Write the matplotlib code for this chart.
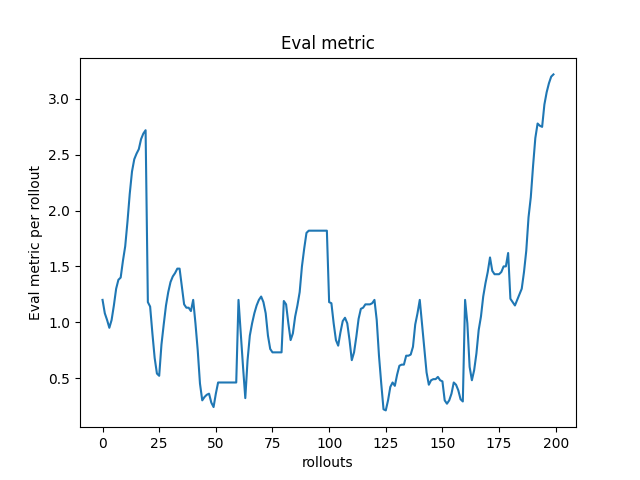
import numpy as np
import matplotlib
matplotlib.use("Agg")
import matplotlib.pyplot as plt

# eval metric per rollout
seg0 = [1.20, 1.08, 1.02, 0.95, 1.02, 1.15, 1.30, 1.38, 1.40, 1.55,
        1.68, 1.90, 2.15, 2.35, 2.46, 2.51, 2.55, 2.64, 2.69, 2.72]
seg1 = [1.18, 1.14, 0.90, 0.68, 0.54, 0.52, 0.80, 0.98, 1.15, 1.27,
        1.36, 1.41, 1.44, 1.48, 1.48, 1.32, 1.16, 1.13, 1.13, 1.10]
seg2 = [1.20, 0.99, 0.75, 0.45, 0.30, 0.33, 0.35, 0.36, 0.28, 0.24,
        0.36, 0.46, 0.46, 0.46, 0.46, 0.46, 0.46, 0.46, 0.46, 0.46]
seg3 = [1.20, 0.90, 0.60, 0.32, 0.66, 0.88, 0.99, 1.08, 1.15, 1.20,
        1.23, 1.18, 1.08, 0.88, 0.76, 0.73, 0.73, 0.73, 0.73, 0.73]
seg4 = [1.19, 1.16, 0.99, 0.84, 0.90, 1.05, 1.15, 1.27, 1.50, 1.66,
        1.80, 1.82, 1.82, 1.82, 1.82, 1.82, 1.82, 1.82, 1.82, 1.82]
seg5 = [1.18, 1.17, 0.99, 0.84, 0.79, 0.91, 1.01, 1.04, 0.99, 0.84,
        0.66, 0.73, 0.87, 1.03, 1.12, 1.13, 1.16, 1.16, 1.16, 1.17]
seg6 = [1.20, 1.02, 0.70, 0.45, 0.22, 0.21, 0.30, 0.42, 0.46, 0.43,
        0.53, 0.61, 0.62, 0.62, 0.70, 0.70, 0.71, 0.78, 0.98, 1.08]
seg7 = [1.20, 0.98, 0.75, 0.55, 0.44, 0.48, 0.49, 0.49, 0.51, 0.48,
        0.47, 0.30, 0.27, 0.30, 0.36, 0.46, 0.44, 0.39, 0.31, 0.29]
seg8 = [1.20, 0.99, 0.60, 0.48, 0.57, 0.72, 0.93, 1.05, 1.23, 1.35,
        1.45, 1.58, 1.46, 1.43, 1.43, 1.43, 1.45, 1.50, 1.50, 1.62]
seg9 = [1.21, 1.18, 1.15, 1.20, 1.25, 1.30, 1.45, 1.64, 1.94, 2.12,
        2.40, 2.65, 2.78, 2.76, 2.75, 2.95, 3.06, 3.14, 3.20, 3.22]

metric = seg0 + seg1 + seg2 + seg3 + seg4 + seg5 + seg6 + seg7 + seg8 + seg9
rollouts = np.arange(len(metric))

fig = plt.figure(figsize=(6.4, 4.8), dpi=100)
ax = fig.add_subplot(111)
ax.plot(rollouts, metric)
ax.set_title("Eval metric")
ax.set_xlabel("rollouts")
ax.set_ylabel("Eval metric per rollout")

fig.savefig("out.png")
